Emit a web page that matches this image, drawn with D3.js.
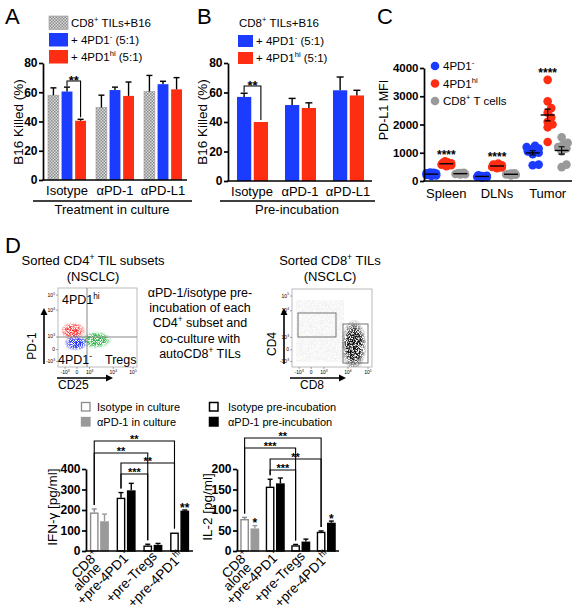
<!DOCTYPE html>
<html><head><meta charset="utf-8">
<script src="https://cdn.jsdelivr.net/npm/d3@7"></script>
<style>
html,body{margin:0;padding:0;background:#fff;overflow:hidden}
svg{display:block;font-family:"Liberation Sans",Arial,Helvetica,sans-serif}
</style></head><body>
<svg id="fig" width="577" height="613"></svg>
<script>
// ================= DATA =================
// Panel A / B
const groupsAB = ["Isotype", "αPD-1", "αPD-L1"];
const legendA = ["CD8^{+} TILs+B16", "+ 4PD1^{-} (5:1)", "+ 4PD1^{hi} (5:1)"];
const aCtrl = [58, 49.5, 60.5];   const aCtrlErr = [5, 8.5, 11];
const aNeg  = [60.5, 61.5, 65.5]; const aNegErr  = [3, 2, 2];
const aHi   = [40.5, 57.5, 62];   const aHiErr   = [1, 9.5, 8];
const legendB = ["+ 4PD1^{-} (5:1)", "+ 4PD1^{hi} (5:1)"];
const bNeg = [57, 51.5, 61.5];    const bNegErr = [2.5, 4.5, 9];
const bHi  = [40, 49.5, 58];      const bHiErr  = [0, 3.5, 3.5];
const ticksAB = [0, 20, 40, 60, 80];

// Panel C (PD-L1 MFI, individual mice)
const tissuesC = ["Spleen", "DLNs", "Tumor"];
const legendC = ["4PD1^{-}", "4PD1^{hi}", "CD8^{+} T cells"];
const cNeg = [
  [180, 200, 215, 230, 240, 250, 260, 275, 290, 300],
  [120, 135, 150, 160, 165, 175, 185, 200],
  [560, 580, 950, 1000, 1050, 1080, 1120, 1150, 1200, 1250]
];
const cHi = [
  [520, 560, 580, 600, 610, 625, 640, 660, 700],
  [450, 480, 500, 520, 540, 560, 580, 620],
  [3580, 2820, 2580, 2420, 2250, 2100, 2000, 1900, 1380]
];
const cCD8 = [
  [230, 240, 250, 260, 270, 280, 290],
  [200, 220, 230, 240, 250, 260, 270],
  [1550, 1350, 1280, 1200, 1150, 1050, 580, 490]
];
const ticksC = [0, 1000, 2000, 3000, 4000];

// Panel D (cytokines)
const catsD = ["CD8^{+}|alone", "+pre-4PD1^{-}", "+pre-Tregs", "+pre-4PD1^{hi}"];
const legendIFN = ["Isotype in culture", "αPD-1 in culture"];
const legendIL2 = ["Isotype pre-incubation", "αPD-1 pre-incubation"];
const ifnIso = [188, 260, 27, 90];   const ifnIsoErr = [17, 25, 6, 0];
const ifnPD1 = [145, 296, 30, 197];  const ifnPD1Err = [35, 34, 7, 3];
const il2Iso = [78, 157, 14, 47];    const il2IsoErr = [4, 18, 2, 2];
const il2PD1 = [55, 165, 23, 69];    const il2PD1Err = [7, 13, 6, 4];
const ticksIFN = [0, 100, 200, 300, 400];
const ticksIL2 = [0, 50, 100, 150, 200];

// ================= HELPERS =================
const BLUE = "#1b3cff", RED = "#ff2d12", GREY = "#9a9a9a";
const svg = d3.select("#fig");
const defs = svg.append("defs");

function rich(sel, s, fs) {
  const parts = s.split(/(\^\{[^}]*\})/).filter(p => p.length);
  let raised = false; const sh = fs * 0.42;
  parts.forEach(p => {
    if (p.startsWith("^{")) {
      sel.append("tspan").attr("font-size", fs * 0.66).attr("dy", raised ? 0 : -sh).text(p.slice(2, -1));
      raised = true;
    } else {
      sel.append("tspan").attr("dy", raised ? sh : 0).text(p);
      raised = false;
    }
  });
  return sel;
}
function txt(x, y, s, fs, opts = {}) {
  const t = svg.append("text").attr("x", x).attr("y", y).attr("font-size", fs)
    .attr("text-anchor", opts.anchor || "start").attr("font-weight", opts.weight || "normal");
  if (opts.rotate) t.attr("transform", `rotate(${opts.rotate},${x},${y})`);
  return rich(t, s, fs);
}
function yAxis(scale, ticks, x, fs) {
  const g = svg.append("g").attr("transform", `translate(${x},0)`)
    .call(d3.axisLeft(scale).tickValues(ticks).tickSize(4).tickSizeOuter(0).tickFormat(d3.format("d")));
  g.attr("font-family", null);
  g.select(".domain").attr("stroke-width", 1.7);
  g.selectAll(".tick line").attr("stroke-width", 1.7);
  g.selectAll(".tick text").attr("font-size", fs || 12).attr("font-weight", "bold").attr("x", -5.5);
  return g;
}
function xAxisLine(x0, x1, y) {
  svg.append("line").attr("x1", x0 - 0.8).attr("x2", x1).attr("y1", y).attr("y2", y)
    .attr("stroke", "#000").attr("stroke-width", 1.7);
}
function errBar(cx, yTop, yErr, cap, col) {
  svg.append("line").attr("x1", cx).attr("x2", cx).attr("y1", yTop).attr("y2", yErr).attr("stroke", col || "#000").attr("stroke-width", 1.4);
  svg.append("line").attr("x1", cx - cap / 2).attr("x2", cx + cap / 2).attr("y1", yErr).attr("y2", yErr).attr("stroke", col || "#000").attr("stroke-width", 1.4);
}
function bracket(xa, ya, xb, yb, yTop, label, fs, lab) {
  svg.append("path").attr("d", `M${xa},${ya}V${yTop}H${xb}V${yb}`)
    .attr("fill", "none").attr("stroke", "#000").attr("stroke-width", 1.1);
  svg.append("text").attr("x", (xa + xb) / 2).attr("y", yTop + lab).attr("text-anchor", "middle")
    .attr("font-size", fs || 12).attr("font-weight", "bold").text(label);
}

// checker pattern
const pat = defs.append("pattern").attr("id", "chk").attr("patternUnits", "userSpaceOnUse").attr("width", 3).attr("height", 3);
pat.append("rect").attr("width", 3).attr("height", 3).attr("fill", "#dcdcdc");
pat.append("rect").attr("width", 1.5).attr("height", 1.5).attr("fill", "#8a8a8a");
pat.append("rect").attr("x", 1.5).attr("y", 1.5).attr("width", 1.5).attr("height", 1.5).attr("fill", "#8a8a8a");

// ================= PANEL A =================
txt(5, 24, "A", 22);
{
  const x = d3.scaleBand().domain(groupsAB).range([43, 187]);
  const xi = d3.scaleBand().domain([0, 1, 2]).range([-19, 19]).paddingInner(0.2);
  const y = d3.scaleLinear().domain([0, 80]).range([180, 63]);
  const ser = [[aCtrl, aCtrlErr, "url(#chk)"], [aNeg, aNegErr, BLUE], [aHi, aHiErr, RED]];
  ser.forEach(([vals, errs, fill], k) => {
    groupsAB.forEach((gname, i) => {
      const bx = x(gname) + x.bandwidth() / 2 + xi(k);
      svg.append("rect").attr("x", bx).attr("y", y(vals[i])).attr("width", xi.bandwidth())
        .attr("height", y(0) - y(vals[i])).attr("fill", fill)
        .attr("stroke", k === 0 ? "#999" : "none").attr("stroke-width", 0.6);
      if (errs[i] > 0) errBar(bx + xi.bandwidth() / 2, y(vals[i]), y(vals[i] + errs[i]), 6);
    });
  });
  yAxis(y, ticksAB, 43);
  xAxisLine(43, 187, 180);
  groupsAB.forEach(g => svg.append("text").attr("x", x(g) + x.bandwidth() / 2).attr("y", 195)
    .attr("text-anchor", "middle").attr("font-size", 13).text(g));
  txt(23, 122, "B16 Killed (%)", 13.5, { anchor: "middle", rotate: -90 });
  svg.append("line").attr("x1", 33).attr("x2", 192).attr("y1", 201).attr("y2", 201).attr("stroke", "#000").attr("stroke-width", 1.6);
  txt(112, 214, "Treatment in culture", 13, { anchor: "middle" });
  const cB = x("Isotype") + x.bandwidth() / 2 + xi(1) + xi.bandwidth() / 2;
  const cR = x("Isotype") + x.bandwidth() / 2 + xi(2) + xi.bandwidth() / 2;
  bracket(cB, y(aNeg[0] + aNegErr[0]) - 1, cR, y(aHi[0] + aHiErr[0]) - 2, 81, "**", 13, 4);
  const lf = [ "url(#chk)", BLUE, RED ];
  legendA.forEach((s, i) => {
    svg.append("rect").attr("x", 49).attr("y", 16 + i * 17).attr("width", 19).attr("height", 13.5).attr("fill", lf[i])
      .attr("stroke", i === 0 ? "#999" : "none").attr("stroke-width", 0.6);
    txt(71, 27 + i * 17, s, 11.5);
  });
}

// ================= PANEL B =================
txt(197, 24, "B", 22);
{
  const x = d3.scaleBand().domain(groupsAB).range([228, 372]);
  const xi = d3.scaleBand().domain([0, 1]).range([-15, 16]).paddingInner(0.15);
  const y = d3.scaleLinear().domain([0, 80]).range([181, 63]);
  const ser = [[bNeg, bNegErr, BLUE], [bHi, bHiErr, RED]];
  ser.forEach(([vals, errs, fill], k) => {
    groupsAB.forEach((gname, i) => {
      const bx = x(gname) + x.bandwidth() / 2 + xi(k);
      svg.append("rect").attr("x", bx).attr("y", y(vals[i])).attr("width", xi.bandwidth())
        .attr("height", y(0) - y(vals[i])).attr("fill", fill);
      if (errs[i] > 0) errBar(bx + xi.bandwidth() / 2, y(vals[i]), y(vals[i] + errs[i]), 7);
    });
  });
  yAxis(y, ticksAB, 228);
  xAxisLine(228, 372, 181);
  groupsAB.forEach(g => svg.append("text").attr("x", x(g) + x.bandwidth() / 2).attr("y", 196)
    .attr("text-anchor", "middle").attr("font-size", 13).text(g));
  txt(207, 122, "B16 Killed (%)", 13.5, { anchor: "middle", rotate: -90 });
  svg.append("line").attr("x1", 220).attr("x2", 375).attr("y1", 201).attr("y2", 201).attr("stroke", "#000").attr("stroke-width", 1.6);
  txt(297, 214, "Pre-incubation", 13, { anchor: "middle" });
  const cB = x("Isotype") + x.bandwidth() / 2 + xi(0) + xi.bandwidth() / 2;
  const cR = x("Isotype") + x.bandwidth() / 2 + xi(1) + xi.bandwidth() / 2;
  bracket(cB, y(bNeg[0] + bNegErr[0]) - 1, cR, y(bHi[0]) - 2, 86, "**", 13, 4);
  txt(279, 27, legendA[0], 11.5, { anchor: "middle" });
  [BLUE, RED].forEach((c, i) => {
    svg.append("rect").attr("x", 238).attr("y", 35 + i * 17).attr("width", 15).attr("height", 12).attr("fill", c);
    txt(256, 45 + i * 17, legendB[i], 11.5);
  });
}

// ================= PANEL C =================
txt(377, 24, "C", 22);
{
  const x = d3.scaleBand().domain(tissuesC).range([421, 573]);
  const y = d3.scaleLinear().domain([0, 4000]).range([181, 68]);
  const off = [-15, 0, 14];
  const cols = [BLUE, RED, GREY];
  const r = 4.3;
  function dodge(vals, maxW) {
    const idx = vals.map((v, i) => i).sort((a, b) => vals[a] - vals[b]);
    const placed = [], out = [];
    const cands = [0]; for (let k = 1; k <= 12; k++) cands.push(k * 1.2, -k * 1.2);
    idx.forEach(i => {
      const py = y(vals[i]);
      let best = null;
      for (const c of cands) {
        if (Math.abs(c) > maxW) continue;
        if (placed.every(p => Math.hypot(p.x - c, p.y - py) >= r * 1.2)) { best = c; break; }
      }
      if (best === null) {
        let bd = -1;
        for (const c of cands) {
          if (Math.abs(c) > maxW) continue;
          const md = Math.min(...placed.map(p => Math.hypot(p.x - c, p.y - py)));
          if (md > bd) { bd = md; best = c; }
        }
      }
      placed.push({ x: best, y: py }); out.push({ dx: best, y: py });
    });
    return out;
  }
  [cNeg, cHi, cCD8].forEach((ser, k) => {
    tissuesC.forEach((t, i) => {
      const cx = x(t) + x.bandwidth() / 2 + off[k];
      const pts = dodge(ser[i], i === 2 ? 7 : 5);
      svg.append("g").selectAll("circle").data(pts).join("circle")
        .attr("cx", d => cx + d.dx).attr("cy", d => d.y).attr("r", r).attr("fill", cols[k]);
      const m = d3.mean(ser[i]);
      const sem = d3.deviation(ser[i]) / Math.sqrt(ser[i].length);
      svg.append("line").attr("x1", cx - 7).attr("x2", cx + 7).attr("y1", y(m)).attr("y2", y(m)).attr("stroke", "#000").attr("stroke-width", 1.4);
      if (y(m - sem) - y(m + sem) > 4) {
        svg.append("path").attr("d", `M${cx},${y(m - sem)}V${y(m + sem)}M${cx - 3},${y(m + sem)}H${cx + 3}M${cx - 3},${y(m - sem)}H${cx + 3}`)
          .attr("stroke", "#000").attr("stroke-width", 1.1).attr("fill", "none");
      }
    });
  });
  yAxis(y, ticksC, 424, 11.5);
  xAxisLine(424, 572, 181);
  tissuesC.forEach(t => svg.append("text").attr("x", x(t) + x.bandwidth() / 2).attr("y", 198)
    .attr("text-anchor", "middle").attr("font-size", 13).text(t));
  txt(388, 110, "PD-L1 MFI", 12.5, { anchor: "middle", rotate: -90 });
  const starY = [152, 154, 70];
  tissuesC.forEach((t, i) => svg.append("text").attr("x", x(t) + x.bandwidth() / 2).attr("y", starY[i] + 7)
    .attr("text-anchor", "middle").attr("font-size", 12).attr("font-weight", "bold").text("****"));
  legendC.forEach((s, i) => {
    svg.append("circle").attr("cx", 435).attr("cy", 66 + i * 17.5).attr("r", r).attr("fill", cols[i]);
    txt(443, 70 + i * 17.5, s, 11.5);
  });
}

// ================= PANEL D: flow plots =================
txt(5, 253, "D", 22);
txt(93, 265, "Sorted CD4^{+} TIL subsets", 13, { anchor: "middle" });
txt(93, 281, "(NSCLC)", 13, { anchor: "middle" });
txt(330, 265, "Sorted CD8^{+} TILs", 13, { anchor: "middle" });
txt(330, 281, "(NSCLC)", 13, { anchor: "middle" });
["αPD-1/isotype pre-", "incubation of each", "CD4^{+} subset and", "co-culture with", "autoCD8^{+} TILs"]
  .forEach((s, i) => txt(200, 297 + i * 15.2, s, 12.5, { anchor: "middle" }));

{
  const f = defs.append("filter").attr("id", "speck").attr("x", "-30%").attr("y", "-30%").attr("width", "160%").attr("height", "160%");
  f.append("feTurbulence").attr("type", "fractalNoise").attr("baseFrequency", 1.4).attr("numOctaves", 1).attr("seed", 5).attr("result", "n");
  f.append("feColorMatrix").attr("in", "n").attr("type", "matrix")
    .attr("values", "0 0 0 0 0  0 0 0 0 0  0 0 0 0 0  4.5 0 0 0 -1.6").attr("result", "m");
  f.append("feComposite").attr("in", "SourceGraphic").attr("in2", "m").attr("operator", "in");
  function grad(id, c) {
    const g = defs.append("radialGradient").attr("id", id);
    g.append("stop").attr("offset", "0%").attr("stop-color", c).attr("stop-opacity", 1);
    g.append("stop").attr("offset", "55%").attr("stop-color", c).attr("stop-opacity", 0.9);
    g.append("stop").attr("offset", "100%").attr("stop-color", c).attr("stop-opacity", 0);
  }
  grad("gR", "#ff2a2a"); grad("gB", "#1f2cff"); grad("gG", "#22b33a"); grad("gK", "#000");

  function flowFrame(x0, x1, y0, y1) {
    svg.append("rect").attr("x", x0).attr("y", y0).attr("width", x1 - x0).attr("height", y1 - y0)
      .attr("fill", "none").attr("stroke", "#aaa").attr("stroke-width", 0.8);
    const yl = [["10^{5}", 0.09], ["10^{4}", 0.28], ["10^{3}", 0.62], ["0", 0.78], ["-10^{3}", 0.93]];
    yl.forEach(([s, f]) => {
      const yy = y0 + f * (y1 - y0);
      svg.append("line").attr("x1", x0 - 2).attr("x2", x0).attr("y1", yy).attr("y2", yy).attr("stroke", "#666").attr("stroke-width", 0.6);
      txt(x0 - 3, yy + 1.5, s, 5, { anchor: "end" });
    });
    const xl = [["-10^{3}", 0.09], ["0", 0.24], ["10^{3}", 0.4], ["10^{4}", 0.7], ["10^{5}", 0.95]];
    xl.forEach(([s, f]) => {
      const xx = x0 + f * (x1 - x0);
      svg.append("line").attr("x1", xx).attr("x2", xx).attr("y1", y1).attr("y2", y1 + 2).attr("stroke", "#666").attr("stroke-width", 0.6);
      txt(xx, y1 + 7, s, 5, { anchor: "middle" });
    });
  }
  function arrows(ax, ayTop, ayBot, bx0, bx1, by) {
    svg.append("line").attr("x1", ax).attr("x2", ax).attr("y1", ayBot).attr("y2", ayTop + 6).attr("stroke", "#000").attr("stroke-width", 1.6);
    svg.append("path").attr("d", `M${ax - 3.5},${ayTop + 7}L${ax},${ayTop}L${ax + 3.5},${ayTop + 7}Z`).attr("fill", "#000");
    svg.append("line").attr("x1", bx0).attr("x2", bx1 - 6).attr("y1", by).attr("y2", by).attr("stroke", "#000").attr("stroke-width", 1.6);
    svg.append("path").attr("d", `M${bx1 - 7},${by - 3.5}L${bx1},${by}L${bx1 - 7},${by + 3.5}Z`).attr("fill", "#000");
  }
  flowFrame(58, 137, 288, 367);
  const clip = defs.append("clipPath").attr("id", "fc1");
  clip.append("rect").attr("x", 58).attr("y", 288).attr("width", 79).attr("height", 79);
  const gF = svg.append("g").attr("clip-path", "url(#fc1)").attr("filter", "url(#speck)");
  gF.append("ellipse").attr("cx", 96).attr("cy", 340).attr("rx", 16).attr("ry", 9).attr("fill", "url(#gG)");
  gF.append("ellipse").attr("cx", 73).attr("cy", 331).attr("rx", 13).attr("ry", 9).attr("fill", "url(#gR)");
  gF.append("ellipse").attr("cx", 76).attr("cy", 343).attr("rx", 12).attr("ry", 8).attr("fill", "url(#gB)");
  svg.append("line").attr("x1", 87).attr("x2", 87).attr("y1", 288).attr("y2", 367).attr("stroke", "#888").attr("stroke-width", 1);
  svg.append("line").attr("x1", 58).attr("x2", 137).attr("y1", 337).attr("y2", 337).attr("stroke", "#888").attr("stroke-width", 1);
  txt(62, 304, "4PD1^{hi}", 12.5);
  txt(58, 364, "4PD1^{-}", 12.5);
  txt(105, 364, "Tregs", 12.5);
  arrows(44, 308, 364, 57, 113, 378);
  txt(36, 346, "PD-1", 12, { anchor: "middle", rotate: -90 });
  txt(58, 389, "CD25", 12);

  flowFrame(292, 372, 289, 367);
  const clip2 = defs.append("clipPath").attr("id", "fc2");
  clip2.append("rect").attr("x", 292).attr("y", 289).attr("width", 80).attr("height", 78);
  const gF2 = svg.append("g").attr("clip-path", "url(#fc2)").attr("filter", "url(#speck)");
  gF2.append("ellipse").attr("cx", 354).attr("cy", 345).attr("rx", 13).attr("ry", 26).attr("fill", "url(#gK)");
  gF2.append("rect").attr("x", 296).attr("y", 300).attr("width", 48).attr("height", 62).attr("fill", "#000").attr("opacity", 0.05);
  svg.append("rect").attr("x", 298).attr("y", 313).attr("width", 38).attr("height", 24).attr("fill", "none").attr("stroke", "#666").attr("stroke-width", 0.9);
  svg.append("rect").attr("x", 343).attr("y", 324).attr("width", 25).attr("height", 39).attr("fill", "none").attr("stroke", "#666").attr("stroke-width", 0.9);
  arrows(284, 308, 364, 290, 346, 378);
  txt(276, 344, "CD4", 12, { anchor: "middle", rotate: -90 });
  txt(300, 389, "CD8", 12);
}

// ================= PANEL D: bar charts =================
function cytoChart(x0, x1, yMax, ticks, iso, isoErr, pd1, pd1Err, firstCols, brks, stars, yLabel, lx) {
  const x = d3.scaleBand().domain(catsD).range([x0, x1]);
  const xi = d3.scaleBand().domain([0, 1]).range([-9.5, 9.5]).paddingInner(0.15);
  const y = d3.scaleLinear().domain([0, yMax]).range([551, 469]);
  const cx = (i, k) => x(catsD[i]) + x.bandwidth() / 2 + xi(k) + xi.bandwidth() / 2;
  [[iso, isoErr], [pd1, pd1Err]].forEach(([vals, errs], k) => {
    catsD.forEach((c, i) => {
      const bx = x(c) + x.bandwidth() / 2 + xi(k);
      let fill, stroke;
      if (i === 0) { fill = k === 0 ? "#fff" : firstCols[1]; stroke = k === 0 ? firstCols[0] : firstCols[1]; }
      else { fill = k === 0 ? "#fff" : "#000"; stroke = "#000"; }
      svg.append("rect").attr("x", bx + 0.7).attr("y", y(vals[i]) + 0.7).attr("width", xi.bandwidth() - 1.4)
        .attr("height", Math.max(0, y(0) - y(vals[i]) - 0.7)).attr("fill", fill).attr("stroke", stroke).attr("stroke-width", 1.4);
      if (errs[i] > 0) errBar(bx + xi.bandwidth() / 2, y(vals[i]), y(vals[i] + errs[i]), 5, i === 0 && k === 1 ? firstCols[1] : (i === 0 ? firstCols[0] : "#000"));
    });
  });
  yAxis(y, ticks, x0, 12);
  xAxisLine(x0, x1, 551);
  catsD.forEach((c, i) => {
    const lines = c.split("|");
    const multi = lines.length > 1;
    const tx = x(c) + x.bandwidth() / 2 + (multi ? 1 : 5), ty = 557;
    lines.forEach((ln, j) => {
      const t = svg.append("text").attr("transform", `translate(${tx},${ty}) rotate(-45)`)
        .attr("text-anchor", "end").attr("font-size", 13.5)
        .attr("x", multi && j === 1 ? -7 : 0)
        .attr("y", multi ? (j === 0 ? -1 : 9) : 0);
      rich(t, ln, 13.5);
    });
  });
  txt(lx, 507, yLabel, 13.5, { anchor: "middle", rotate: -90 });
  const vTop = (i, k) => { const v = k === 0 ? iso[i] + isoErr[i] : pd1[i] + pd1Err[i]; return y(v) - 4; };
  brks.forEach(b => bracket(cx(b.a, 0), vTop(b.a, 0), cx(b.b, 0), vTop(b.b, 0), b.y, b.label, 11, 1.5));
  stars.forEach(s => svg.append("text").attr("x", cx(s.i, s.k)).attr("y", y((s.k === 0 ? iso[s.i] + isoErr[s.i] : pd1[s.i] + pd1Err[s.i])) + 1.5)
    .attr("text-anchor", "middle").attr("font-size", 12).attr("font-weight", "bold").text(s.label));
}
cytoChart(86, 193, 400, ticksIFN, ifnIso, ifnIsoErr, ifnPD1, ifnPD1Err, ["#8c8c8c", "#9a9a9a"],
  [{ a: 0, b: 3, y: 441, label: "**" }, { a: 0, b: 2, y: 453, label: "**" }, { a: 1, b: 3, y: 463, label: "**" }, { a: 1, b: 2, y: 474, label: "***" }],
  [{ i: 3, k: 1, label: "**" }], "IFN-γ [pg/ml]", 57);
cytoChart(237, 339, 200, ticksIL2, il2Iso, il2IsoErr, il2PD1, il2PD1Err, ["#8c8c8c", "#9a9a9a"],
  [{ a: 0, b: 3, y: 438, label: "**" }, { a: 0, b: 2, y: 448, label: "***" }, { a: 1, b: 3, y: 459, label: "**" }, { a: 1, b: 2, y: 470, label: "***" }],
  [{ i: 0, k: 1, label: "*" }, { i: 3, k: 1, label: "*" }], "IL-2 [pg/ml]", 212);

legendIFN.forEach((s, i) => {
  svg.append("rect").attr("x", 81.5).attr("y", 402.5 + i * 15).attr("width", 8.5).attr("height", 8.5)
    .attr("fill", i === 0 ? "#fff" : "#9a9a9a").attr("stroke", i === 0 ? "#8c8c8c" : "#9a9a9a").attr("stroke-width", 1.3);
  txt(97, 411 + i * 15, s, 11);
});
legendIL2.forEach((s, i) => {
  svg.append("rect").attr("x", 209.5).attr("y", 402.5 + i * 15).attr("width", 8.5).attr("height", 8.5)
    .attr("fill", i === 0 ? "#fff" : "#000").attr("stroke", "#000").attr("stroke-width", 1.5);
  txt(228, 411 + i * 15, s, 11);
});
</script>
</body></html>
